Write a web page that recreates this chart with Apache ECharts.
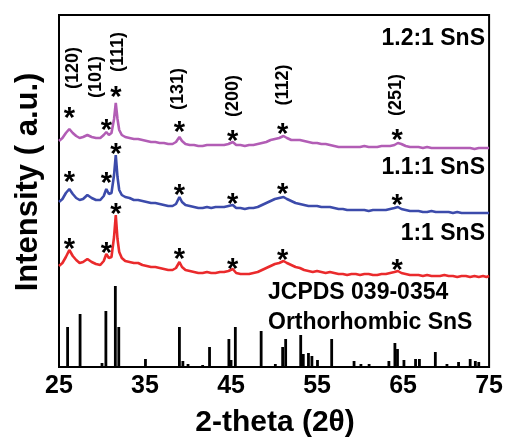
<!DOCTYPE html>
<html>
<head>
<meta charset="utf-8">
<script src="https://cdn.jsdelivr.net/npm/echarts@6/dist/echarts.min.js"></script>
<style>
  html, body { margin: 0; padding: 0; background: #fff; }
  #chart { width: 506px; height: 440px; }
</style>
</head>
<body>
<div id="chart"></div>
<script>
// 2-theta sampling shared by the three measured patterns
var twoTheta = [
  25.0,25.4,25.8,26.2,26.6,27.0,27.4,27.8,28.3,28.8,
  29.3,29.8,30.2,30.5,30.8,31.1,31.4,31.6,31.8,32.0,
  32.3,32.7,33.2,33.7,34.2,34.7,35.2,35.7,36.2,36.7,
  37.2,37.7,38.2,38.6,39.0,39.3,39.7,40.2,40.7,41.2,
  41.7,42.2,42.7,43.2,43.7,44.2,44.7,45.2,45.6,46.1,
  46.6,47.1,47.6,48.1,48.6,49.1,49.6,50.1,50.6,51.1,
  51.5,52.0,52.5,53.0,53.5,54.0,54.5,55.0,55.5,56.0,
  56.5,57.0,57.5,58.0,58.5,59.0,59.5,60.0,60.5,61.0,
  61.5,62.0,62.5,63.0,63.5,64.0,64.4,64.8,65.3,65.8,
  66.3,66.8,67.3,67.8,68.3,68.8,69.3,69.8,70.3,70.8,
  71.3,71.8,72.3,72.8,73.3,73.8,74.3,74.7,75.0
];

// Intensity (a.u., stacked with vertical offsets) for each precursor ratio
var sns_1_1 = [
  101,104,110,117,111,107,104,105,108,105,
  103,102,106,113,109,110,130,152,128,115,
  109,106,105,104,104,102,101,100,100,99,
  98,97,97,99,105,100,97,96,95,94,
  94,95,94,94,95,95,96,98,94,93,
  93,93,94,95,97,99,101,103,104,106,
  104,102,100,99,97,96,95,96,95,94,
  95,94,93,93,92,93,93,92,93,93,
  92,92,93,93,94,95,96,94,93,92,
  92,92,91,92,91,91,91,92,91,91,
  90,91,91,90,91,90,91,90,91
];
var sns_11_1 = [
  165,168,174,178,173,169,167,168,172,169,
  167,167,171,178,173,174,192,212,190,177,
  172,170,169,167,167,166,165,164,164,163,
  162,161,161,163,170,165,162,161,160,159,
  159,160,159,160,160,160,161,162,159,159,
  158,159,159,160,162,164,166,168,169,170,
  168,166,164,163,162,161,161,161,160,160,
  160,159,158,158,157,157,157,157,157,156,
  157,157,157,157,158,159,160,158,157,156,
  156,156,155,155,156,155,155,155,155,154,
  155,154,154,154,154,154,154,154,154
];
var sns_12_1 = [
  226,229,234,238,234,231,229,230,232,230,
  229,229,232,235,232,234,248,264,248,237,
  232,230,229,228,228,227,226,225,225,224,
  224,223,223,225,230,226,223,222,222,221,
  221,222,222,222,222,222,223,225,222,222,
  221,222,222,223,224,225,227,228,229,231,
  229,227,227,227,226,225,224,224,223,223,
  222,221,220,220,220,220,220,220,221,220,
  220,220,221,221,221,222,224,223,221,220,
  220,220,219,220,219,219,219,219,219,219,
  219,219,219,219,218,219,219,219,219
];

// Reference pattern JCPDS 039-0354 (orthorhombic SnS)
var refPos = [26.0,27.45,30.0,30.45,31.55,31.95,35.05,39.0,39.4,40.0,
  41.7,42.5,44.75,45.0,45.5,48.5,50.15,51.0,51.35,53.1,
  53.4,54.0,54.4,55.05,56.7,59.3,60.1,61.05,63.35,64.05,
  64.35,65.1,66.45,66.9,68.75,70.1,71.45,72.8,73.4,73.8];
var refHeight = [40,53,4,56,81,40,8,40,6,3,
  2,20,28,7,40,36,3,20,28,32,
  13,14,11,7,28,6,3,3,6,24,
  18,7,8,8,15,3,5,8,6,5];

// Indexed reflections and where their asterisks sit on each pattern
var peakPos = [26.2, 30.5, 31.6, 39.0, 45.2, 51.0, 64.3];
var starH_1_1 = [125,121,160,115,105,114,104];
var starH_11_1 = [192,191,220,179,170,180,169];
var starH_12_1 = [256,244,277,242,233,240,234];
var hklText = ['(120)','(101)','(111)','(131)','(200)','(112)','(251)'];
var hklPos = [26.66, 29.25, 31.87, 38.82, 45.2, 51.0, 64.13];
var hklH = [299, 290, 315, 278, 271, 282, 272];

var sampleNames = ['1.2:1 SnS', '1.1:1 SnS', '1:1 SnS'];
var refNames = ['JCPDS 039-0354', 'Orthorhombic SnS'];
var xTicks = [25, 35, 45, 55, 65, 75];

var FONT = "'Liberation Sans', Arial, sans-serif";
var colors = { r12: '#b25db5', r11: '#3c4bab', r10: '#ea2a2c' };

function pairs(xs, ys) { return xs.map(function (x, i) { return [x, ys[i]]; }); }

function lineSeries(vals, color) {
  return {
    type: 'line', data: pairs(twoTheta, vals), showSymbol: false, symbol: 'none',
    lineStyle: { color: color, width: 2.6 }, z: 3, silent: true
  };
}
// plain black bold asterisk, centred on its data point, no halo
function starSeries(h) {
  return {
    type: 'scatter', data: pairs(peakPos, h), symbolSize: 0, z: 5, silent: true,
    itemStyle: { color: '#000', opacity: 1 },
    label: {
      show: true, position: 'inside', formatter: '*', offset: [0, 8], opacity: 1,
      color: '#000', fontSize: 29, fontWeight: 'bold', fontFamily: FONT,
      textBorderWidth: 0, textBorderColor: 'transparent'
    }
  };
}

function textEl(x, y, text, size, align, rot) {
  return {
    type: 'text', x: x, y: y, rotation: rot || 0, z: 10, silent: true,
    style: { text: text, font: 'bold ' + size + 'px ' + FONT, fill: '#000', align: align, verticalAlign: 'middle' }
  };
}

var chart = echarts.init(document.getElementById('chart'), null, { renderer: 'canvas' });
chart.setOption({
  animation: false,
  backgroundColor: '#fff',
  grid: { left: 59, right: 15, top: 15, bottom: 73, show: true, borderColor: '#000', borderWidth: 2, backgroundColor: 'transparent' },
  xAxis: {
    type: 'value', min: xTicks[0], max: xTicks[xTicks.length - 1], interval: 10,
    axisLine: { show: true, lineStyle: { color: '#000', width: 2 } },
    axisTick: { show: false }, splitLine: { show: false },
    axisLabel: { color: '#000', fontSize: 25, fontWeight: 'bold', fontFamily: FONT, margin: 7 }
  },
  yAxis: {
    type: 'value', min: 0, max: 352,
    axisLine: { show: false }, axisTick: { show: false }, splitLine: { show: false }, axisLabel: { show: false }
  },
  series: [
    {
      type: 'bar', data: pairs(refPos, refHeight), barWidth: 2.8, z: 2, silent: true,
      itemStyle: { color: '#000' }
    },
    lineSeries(sns_1_1, colors.r10),
    lineSeries(sns_11_1, colors.r11),
    lineSeries(sns_12_1, colors.r12),
    starSeries(starH_1_1),
    starSeries(starH_11_1),
    starSeries(starH_12_1)
  ]
});

// Text layer: sample names, reference card, axis titles and the rotated (hkl) indices,
// the latter placed through the chart's own coordinate conversion.
var texts = [
  textEl(485, 38.5, sampleNames[0], 23, 'right'),
  textEl(485, 168, sampleNames[1], 23, 'right'),
  textEl(485, 233.5, sampleNames[2], 23, 'right'),
  textEl(268, 292.5, refNames[0], 23, 'left'),
  textEl(268, 322.5, refNames[1], 23, 'left'),
  textEl(275, 423, '2-theta (2\u03b8)', 30, 'center'),
  textEl(28, 182, 'Intensity ( a.u.)', 31, 'center', Math.PI / 2)
];
hklText.forEach(function (t, i) {
  var p = chart.convertToPixel({ gridIndex: 0 }, [hklPos[i], hklH[i]]);
  texts.push(textEl(p[0], p[1], t, 18, 'center', Math.PI / 2));
});
chart.setOption({ graphic: texts });
</script>
</body>
</html>
